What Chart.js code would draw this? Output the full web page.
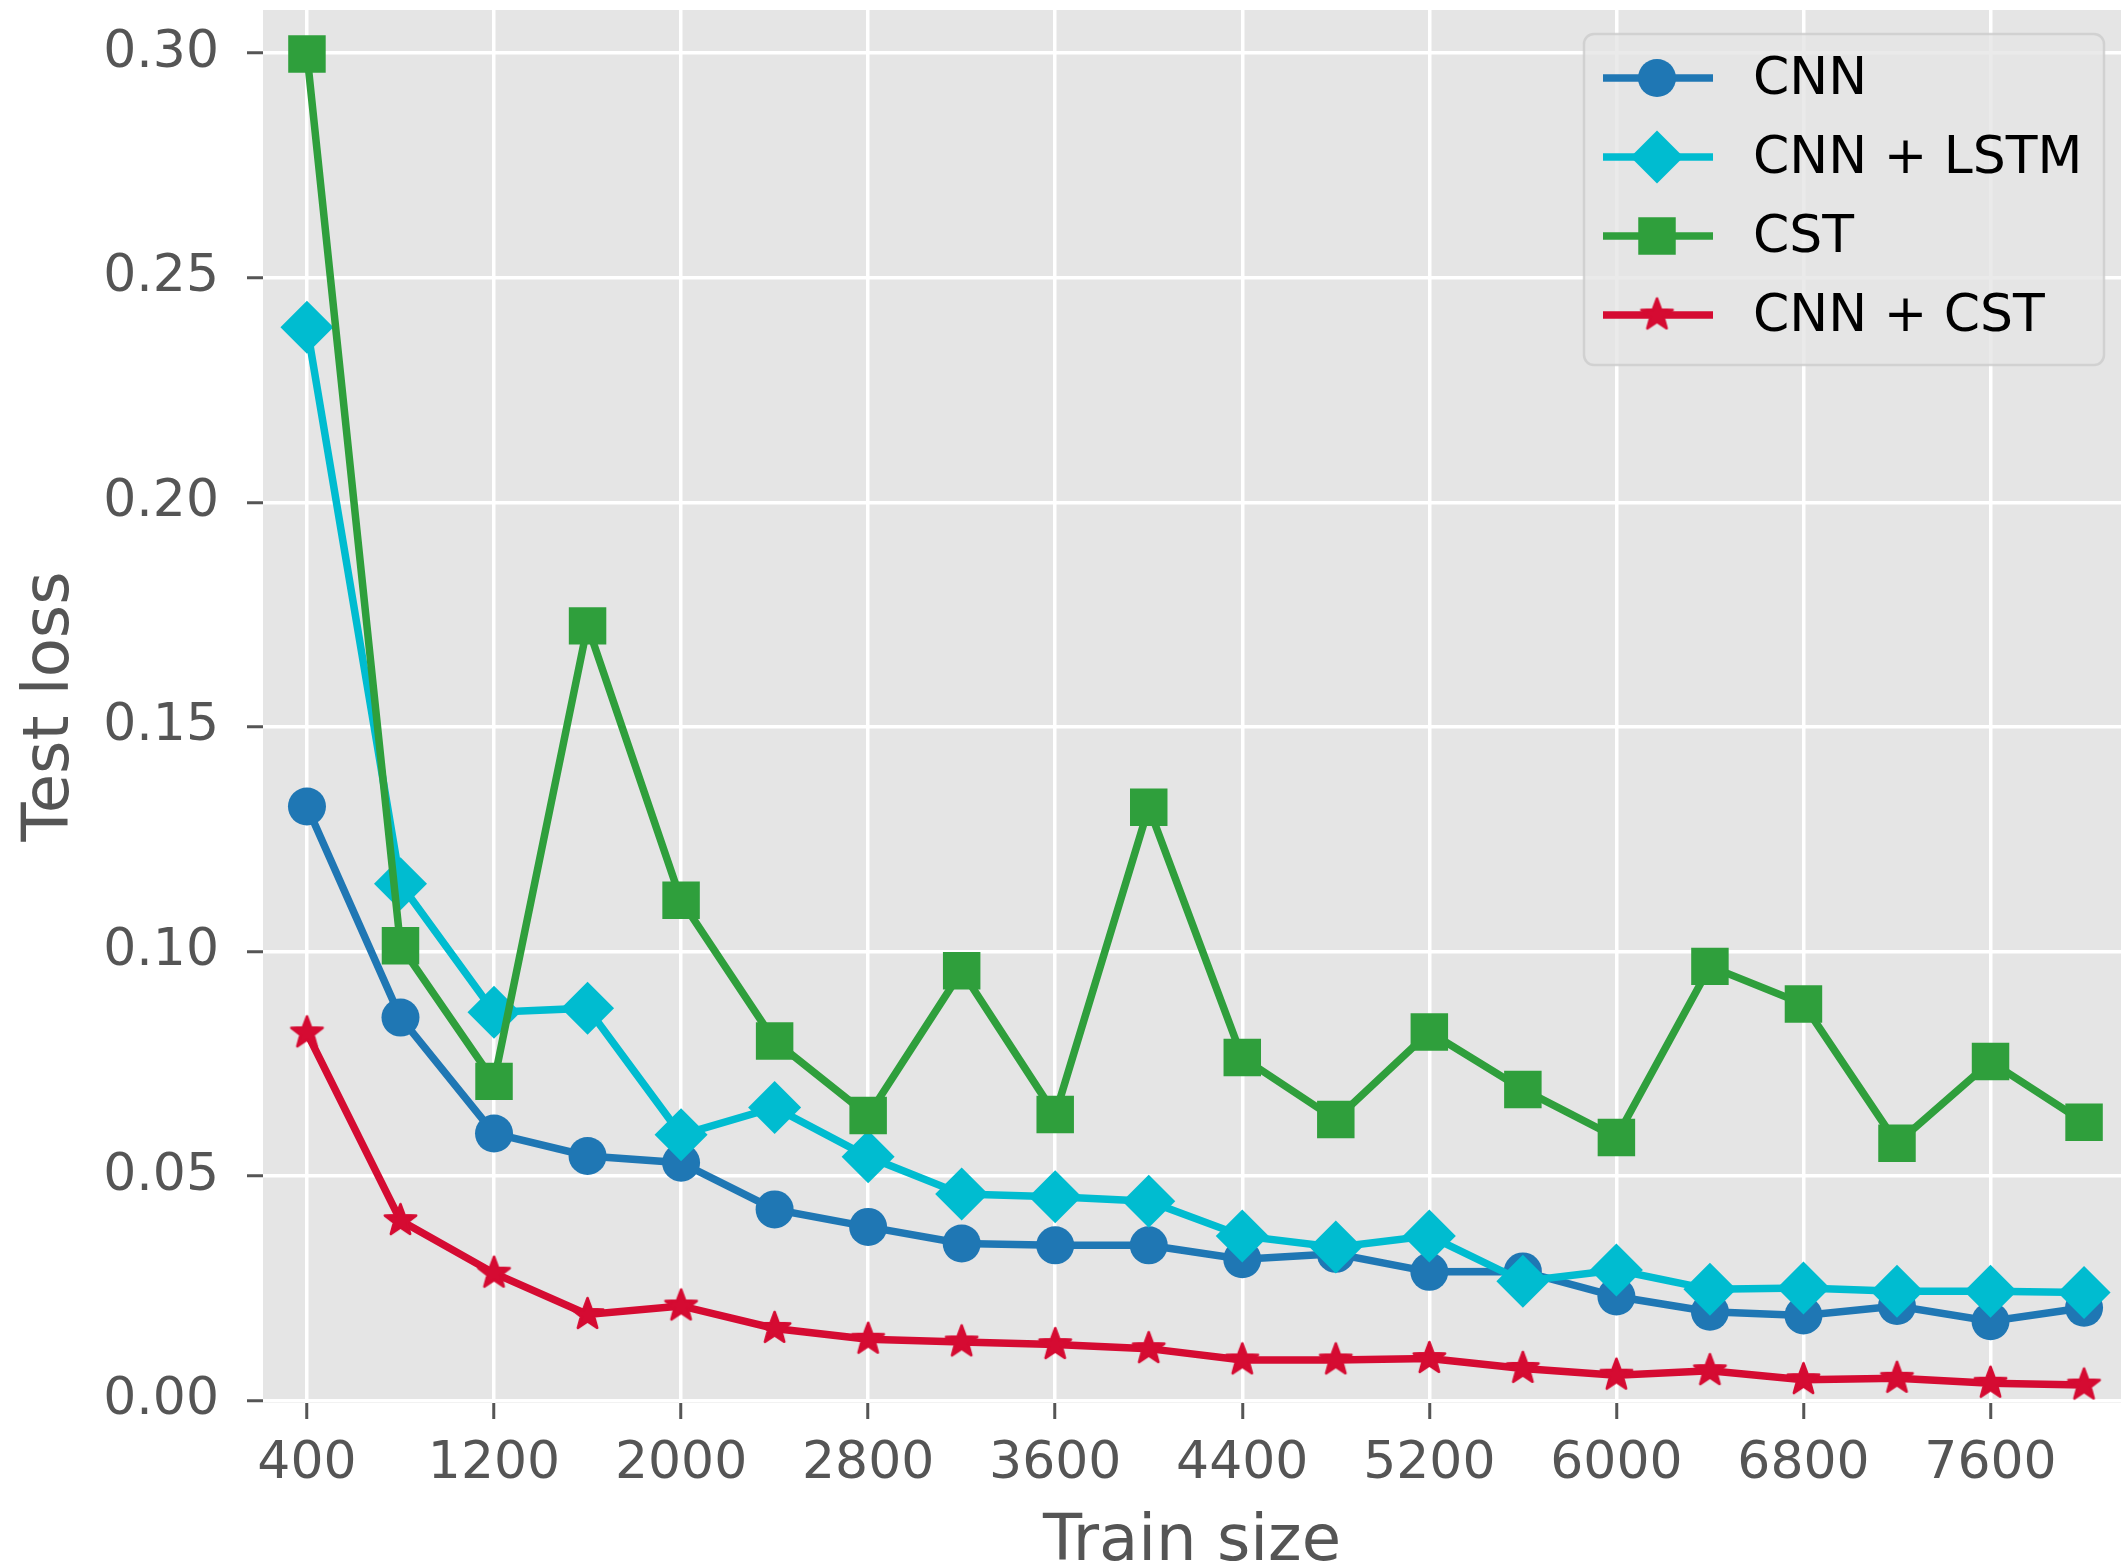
<!DOCTYPE html>
<html><head><meta charset="utf-8">
<script src="https://cdn.jsdelivr.net/npm/chart.js@4.4.1/dist/chart.umd.min.js"></script>
<style>html,body{margin:0;padding:0;background:#fff;}canvas{display:block;}</style>
</head><body>
<canvas id="c" width="2121" height="1567"></canvas>
<script>
const trainSizes = [400,800,1200,1600,2000,2400,2800,3200,3600,4000,4400,4800,5200,5600,6000,6400,6800,7200,7600,8000];
const seriesNames = ['CNN', 'CNN + LSTM', 'CST', 'CNN + CST'];
const cnnLoss = [0.1323,0.0853,0.0595,0.0545,0.0530,0.0426,0.0387,0.0350,0.0346,0.0346,0.0315,0.0327,0.0287,0.0288,0.0232,0.0198,0.0190,0.0211,0.0177,0.0207];
const cnnLstmLoss = [0.2390,0.1151,0.0865,0.0874,0.0592,0.0653,0.0543,0.0460,0.0454,0.0444,0.0367,0.0342,0.0367,0.0266,0.0291,0.0248,0.0251,0.0244,0.0244,0.0241];
const cstLoss = [0.2998,0.1013,0.0711,0.1725,0.1114,0.0801,0.0635,0.0957,0.0637,0.1321,0.0764,0.0626,0.0821,0.0693,0.0586,0.0967,0.0883,0.0573,0.0755,0.0620];
const cnnCstLoss = [0.0819,0.0401,0.0284,0.0192,0.0211,0.0161,0.0137,0.0131,0.0125,0.0116,0.0091,0.0091,0.0094,0.0072,0.0057,0.0067,0.0047,0.0050,0.0039,0.0035];
const xTickValues = [400,1200,2000,2800,3600,4400,5200,6000,6800,7600];
const xTickLabels = ['400','1200','2000','2800','3600','4400','5200','6000','6800','7600'];
const yTickValues = [0,0.05,0.10,0.15,0.20,0.25,0.30];
const yTickLabels = ['0.00','0.05','0.10','0.15','0.20','0.25','0.30'];
const xTitle = 'Train size';
const yTitle = 'Test loss';

const FONT = 'DejaVu Sans';
const C_BLUE = '#1f77b4', C_CYAN = '#00bcd0', C_GREEN = '#2f9f3c', C_RED = '#d50b32';

function makeStar(color, R) {
  const c = document.createElement('canvas');
  const s = Math.ceil(R * 2 + 6);
  c.width = s; c.height = s;
  const g = c.getContext('2d');
  g.fillStyle = color; g.strokeStyle = color; g.lineWidth = 2.5; g.lineJoin = 'round';
  const r = R * 0.42;
  g.beginPath();
  for (let i = 0; i < 10; i++) {
    const a = -Math.PI / 2 + i * Math.PI / 5;
    const rad = i % 2 === 0 ? R : r;
    const px = s / 2 + rad * Math.cos(a), py = s / 2 + rad * Math.sin(a);
    if (i === 0) g.moveTo(px, py); else g.lineTo(px, py);
  }
  g.closePath(); g.fill(); g.stroke();
  return c;
}
const starImg = makeStar(C_RED, 16.5);

function mk(label, vals, color, style, radius, order) {
  return {
    label, data: trainSizes.map((x, i) => ({x, y: vals[i]})),
    borderColor: color, backgroundColor: color, borderWidth: 7.5,
    pointStyle: style, pointRadius: radius, pointHoverRadius: radius,
    pointBorderWidth: 0, pointBackgroundColor: color, pointBorderColor: color,
    tension: 0, order
  };
}

const bgPlugin = {
  id: 'plotBg',
  beforeDraw(chart) {
    const a = chart.chartArea, ctx = chart.ctx;
    ctx.save(); ctx.fillStyle = '#E5E5E5';
    ctx.fillRect(a.left, a.top, a.right - a.left, a.bottom - a.top);
    ctx.restore();
  }
};

const legendPlugin = {
  id: 'customLegend',
  afterDraw(chart) {
    const ctx = chart.ctx;
    ctx.save();
    ctx.beginPath();
    if (ctx.roundRect) ctx.roundRect(1584, 34, 520, 331, 10); else ctx.rect(1584, 34, 520, 331);
    ctx.fillStyle = 'rgba(229,229,229,0.8)'; ctx.fill();
    ctx.strokeStyle = 'rgba(204,204,204,0.8)'; ctx.lineWidth = 2.5; ctx.stroke();
    chart.data.datasets.forEach((ds, i) => {
      const y = 78 + i * 79;
      ctx.strokeStyle = ds.borderColor; ctx.lineWidth = ds.borderWidth;
      ctx.beginPath(); ctx.moveTo(1603, y); ctx.lineTo(1713, y); ctx.stroke();
      ctx.fillStyle = ds.pointBackgroundColor;
      Chart.helpers.drawPoint(ctx, {pointStyle: ds.pointStyle, radius: ds.pointRadius, rotation: 0, borderWidth: 0}, 1657, y);
      ctx.fillStyle = '#000000';
      ctx.font = '52px "' + FONT + '"';
      ctx.textBaseline = 'middle'; ctx.textAlign = 'left';
      ctx.fillText(ds.label, 1753, y + 2);
    });
    ctx.restore();
  }
};

function noPad(s) { s.paddingTop = 0; s.paddingBottom = 0; s.paddingLeft = 0; s.paddingRight = 0; }

new Chart(document.getElementById('c'), {
  type: 'line',
  data: {
    datasets: [
      mk(seriesNames[0], cnnLoss, C_BLUE, 'circle', 19, 4),
      mk(seriesNames[1], cnnLstmLoss, C_CYAN, 'rectRot', 26.5, 3),
      mk(seriesNames[2], cstLoss, C_GREEN, 'rect', 26.5, 2),
      mk(seriesNames[3], cnnCstLoss, C_RED, starImg, 16.5, 1)
    ]
  },
  options: {
    responsive: false, animation: false, devicePixelRatio: 1, events: [],
    layout: {autoPadding: false, padding: {top: 10, right: 0, bottom: -5, left: 0}},
    plugins: {legend: {display: false}, tooltip: {enabled: false}},
    scales: {
      x: {
        type: 'linear', min: 212, max: 8158, bounds: 'data',
        afterBuildTicks: s => { s.ticks = xTickValues.map(v => ({value: v})); },
        afterFit: s => { s.height = 169; noPad(s); },
        ticks: {callback: (v, i) => xTickLabels[i], color: '#555555', font: {family: FONT, size: 52}, padding: 14, maxRotation: 0, autoSkip: false},
        grid: {color: '#ffffff', lineWidth: 3.5, tickColor: '#555555', tickWidth: 3, tickLength: 16},
        border: {display: false},
        title: {display: true, text: xTitle, color: '#555555', font: {family: FONT, size: 64, lineHeight: 1}, padding: {top: 0, bottom: -3}}
      },
      y: {
        type: 'linear', min: -0.0005, max: 0.3096, bounds: 'data',
        afterBuildTicks: s => { s.ticks = yTickValues.map(v => ({value: v})); },
        afterFit: s => { s.width = 263; noPad(s); },
        ticks: {callback: (v, i) => yTickLabels[i], color: '#555555', font: {family: FONT, size: 52}, padding: 28, autoSkip: false},
        grid: {color: '#ffffff', lineWidth: 3.5, tickColor: '#555555', tickWidth: 3, tickLength: 16},
        border: {display: false},
        title: {display: true, text: yTitle, color: '#555555', font: {family: FONT, size: 64, lineHeight: 1}, padding: {top: 19, bottom: 0}}
      }
    }
  },
  plugins: [bgPlugin, legendPlugin]
});
</script>
</body></html>
